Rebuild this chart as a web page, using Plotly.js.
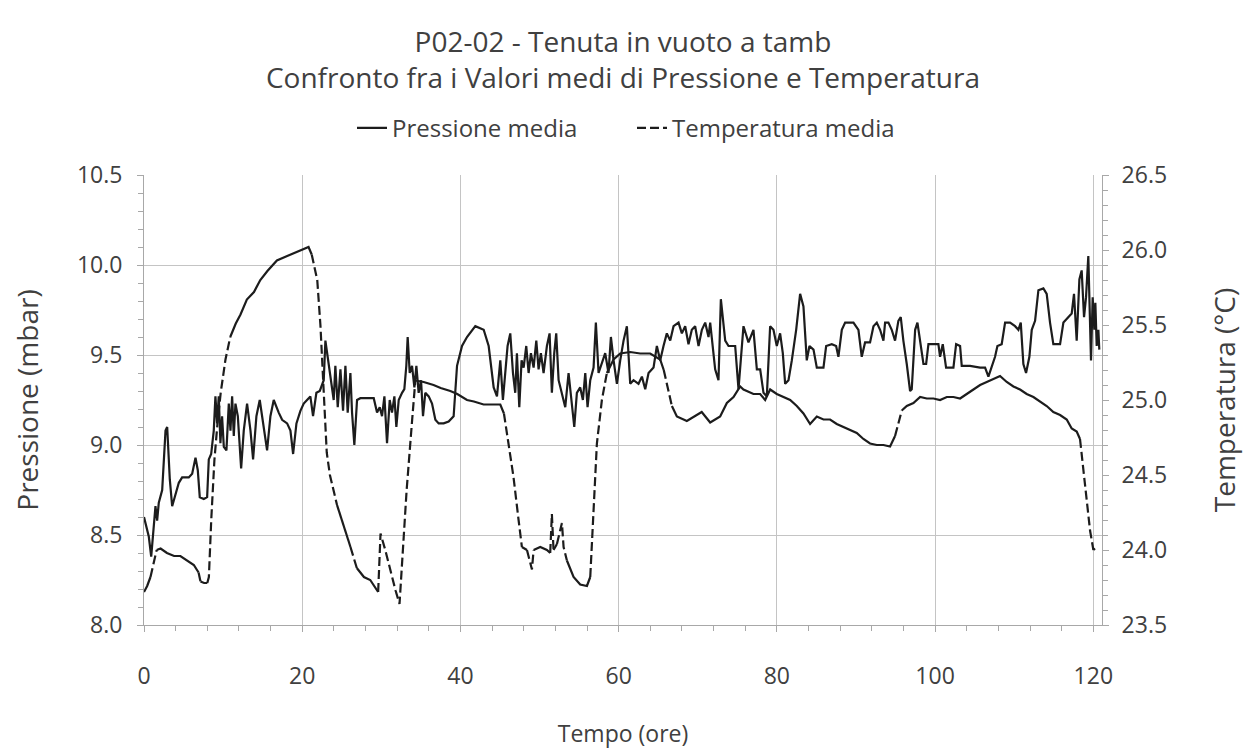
<!DOCTYPE html>
<html>
<head>
<meta charset="utf-8">
<script src="https://cdn.plot.ly/plotly-3.0.1.min.js"></script>
<style>
  html, body { margin: 0; padding: 0; background: #ffffff; }
  #chart { width: 1243px; height: 749px; }
</style>
</head>
<body>
<div id="chart"></div>
<script>
// ---- Data ----
const titleLines = ['P02-02 - Tenuta in vuoto a tamb', 'Confronto fra i Valori medi di Pressione e Temperatura'];
const seriesNames = ['Pressione media', 'Temperatura media'];
const xTitle = 'Tempo (ore)';
const yTitle = 'Pressione (mbar)';
const y2Title = 'Temperatura (°C)';

// Pressione media (mbar) vs tempo (ore)
const timeP = [
  0, 0.61, 0.91, 1.24, 1.45, 1.66, 1.87, 2.30, 2.72, 2.93, 3.26, 3.56, 3.98, 4.40, 4.82, 5.24, 5.66, 6.09, 6.51, 6.80,
  7.05, 7.56, 7.98, 8.19, 8.49, 8.82, 9.03, 9.24, 9.45, 9.66, 9.87, 10.09, 10.42, 10.72, 10.93, 11.14, 11.35, 11.56, 11.86, 12.28,
  12.61, 13.03, 13.46, 13.79, 14.21, 14.63, 15.06, 15.56, 15.98, 16.40, 17.03, 17.46, 18.09, 18.51, 18.85, 19.27, 19.77, 20.19, 20.61, 21.03,
  21.37, 21.79, 22.22, 22.51, 22.72, 22.93, 23.23, 23.56, 23.98, 24.19, 24.49, 24.83, 25.16, 25.46, 25.75, 26.09, 26.30, 26.59, 26.93, 27.35,
  28.19, 29.04, 29.46, 29.80, 30.09, 30.39, 30.72, 31.06, 31.35, 31.65, 31.90, 32.20, 32.62, 32.91, 33.16, 33.33, 33.59, 33.88, 34.18, 34.43,
  34.72, 35.02, 35.27, 35.56, 35.99, 36.41, 36.83, 37.25, 37.88, 38.51, 39.14, 39.57, 40.20, 40.83, 41.88, 42.94, 43.57, 44.20, 44.62, 45.04,
  45.37, 45.67, 45.96, 46.30, 46.64, 46.93, 47.14, 47.44, 47.73, 47.99, 48.32, 48.62, 48.91, 49.25, 49.59, 49.88, 50.17, 50.51, 50.93, 51.27,
  51.56, 51.86, 52.11, 52.41, 52.83, 53.25, 53.67, 54.09, 54.39, 54.72, 55.14, 55.48, 55.78, 56.07, 56.41, 56.83, 57.12, 57.46, 57.88, 58.30,
  58.72, 59.02, 59.36, 59.78, 60.20, 60.62, 61.04, 61.46, 61.88, 62.51, 62.94, 63.36, 63.78, 64.41, 64.83, 65.25, 65.67, 66.09, 66.52, 66.94,
  67.57, 67.99, 68.41, 68.83, 69.25, 69.67, 70.10, 70.52, 70.94, 71.36, 71.57, 72.20, 72.62, 72.92, 73.47, 73.89, 74.73, 75.15, 75.78, 76.41,
  77.04, 77.47, 77.89, 78.31, 78.73, 79.15, 79.57, 79.99, 80.41, 80.75, 81.05, 81.47, 81.89, 82.44, 82.94, 83.36, 83.78, 84.12, 84.63, 85.05,
  85.47, 85.89, 86.23, 86.94, 87.49, 87.78, 88.21, 88.63, 89.68, 90.31, 90.73, 91.15, 91.78, 92.21, 92.63, 93.05, 93.47, 93.68, 94.10, 94.52,
  94.94, 95.36, 95.66, 95.99, 96.42, 96.84, 97.05, 97.48, 97.77, 98.11, 98.53, 98.87, 99.16, 99.79, 100.42, 100.63, 100.97, 101.39, 102.32, 102.66,
  103.16, 103.37, 104.42, 105.69, 106.32, 106.74, 107.16, 107.58, 107.88, 108.42, 108.85, 109.48, 110.11, 110.53, 110.83, 111.16, 111.50, 111.92, 112.22, 112.64,
  113.06, 113.69, 114.11, 114.53, 114.95, 115.80, 116.22, 116.85, 117.27, 117.56, 117.90, 118.24, 118.53, 118.83, 119.08, 119.37, 119.59, 119.71, 119.92, 120.13,
  120.26, 120.43, 120.64, 120.76
];
const pressione = [
  8.60, 8.49, 8.38, 8.56, 8.66, 8.58, 8.68, 8.75, 9.08, 9.10, 8.81, 8.66, 8.73, 8.79, 8.82, 8.82, 8.82, 8.84, 8.93, 8.86,
  8.71, 8.70, 8.71, 8.92, 8.95, 9.08, 9.27, 9.12, 9.27, 9.01, 9.16, 8.99, 8.97, 9.23, 9.08, 9.27, 9.05, 9.23, 9.16, 8.87,
  9.08, 9.23, 9.08, 8.92, 9.16, 9.25, 9.12, 8.97, 9.16, 9.25, 9.18, 9.14, 9.12, 9.08, 8.95, 9.12, 9.19, 9.23, 9.25, 9.27,
  9.16, 9.29, 9.30, 9.34, 9.36, 9.58, 9.49, 9.38, 9.25, 9.44, 9.21, 9.42, 9.19, 9.44, 9.18, 9.40, 9.18, 9.00, 9.25, 9.26,
  9.26, 9.26, 9.18, 9.21, 9.16, 9.27, 9.01, 9.25, 9.18, 9.27, 9.10, 9.25, 9.29, 9.31, 9.44, 9.60, 9.40, 9.44, 9.32, 9.44,
  9.29, 9.36, 9.16, 9.29, 9.27, 9.23, 9.14, 9.12, 9.12, 9.13, 9.16, 9.44, 9.55, 9.60, 9.66, 9.64, 9.55, 9.32, 9.27, 9.47,
  9.25, 9.40, 9.55, 9.62, 9.40, 9.29, 9.51, 9.21, 9.47, 9.43, 9.55, 9.40, 9.51, 9.43, 9.58, 9.42, 9.51, 9.40, 9.55, 9.62,
  9.29, 9.51, 9.62, 9.36, 9.29, 9.21, 9.40, 9.21, 9.10, 9.29, 9.32, 9.25, 9.40, 9.21, 9.36, 9.43, 9.68, 9.40, 9.45, 9.51,
  9.40, 9.60, 9.47, 9.34, 9.47, 9.58, 9.66, 9.34, 9.36, 9.34, 9.38, 9.31, 9.40, 9.43, 9.55, 9.47, 9.55, 9.62, 9.58, 9.66,
  9.68, 9.62, 9.66, 9.56, 9.64, 9.66, 9.55, 9.64, 9.68, 9.60, 9.68, 9.42, 9.36, 9.81, 9.58, 9.55, 9.55, 9.31, 9.66, 9.57,
  9.64, 9.42, 9.42, 9.29, 9.27, 9.66, 9.64, 9.55, 9.62, 9.51, 9.34, 9.36, 9.47, 9.64, 9.84, 9.77, 9.47, 9.55, 9.53, 9.43,
  9.43, 9.43, 9.55, 9.56, 9.55, 9.49, 9.64, 9.68, 9.68, 9.64, 9.49, 9.57, 9.57, 9.66, 9.68, 9.64, 9.58, 9.68, 9.68, 9.64,
  9.58, 9.69, 9.71, 9.58, 9.45, 9.30, 9.31, 9.64, 9.68, 9.58, 9.45, 9.45, 9.56, 9.56, 9.56, 9.49, 9.56, 9.43, 9.43, 9.56,
  9.55, 9.44, 9.44, 9.43, 9.43, 9.38, 9.43, 9.49, 9.55, 9.56, 9.68, 9.68, 9.66, 9.64, 9.68, 9.45, 9.40, 9.49, 9.64, 9.69,
  9.86, 9.87, 9.84, 9.68, 9.56, 9.56, 9.68, 9.71, 9.73, 9.84, 9.58, 9.92, 9.97, 9.71, 9.82, 10.05, 9.64, 9.47, 9.82, 9.64,
  9.79, 9.55, 9.64, 9.53
];

// Temperatura media (°C) vs tempo (ore)
const timeT = [
  0, 0.4, 0.82, 1.24, 1.6, 2.1, 2.9, 3.8, 4.6, 5.45, 6.3, 6.9, 7.14, 7.6, 8.0, 8.2, 8.5, 8.9, 9.3, 9.7,
  10.3, 10.9, 11.6, 12.2, 13.0, 13.9, 14.7, 15.6, 16.8, 18.1, 19.35, 20.4, 20.8, 21.2, 21.5, 21.9, 22.3, 22.7, 23.1, 23.5,
  24.4, 25.25, 26.1, 26.9, 27.8, 28.6, 29.3, 29.6, 29.9, 30.5, 31.1, 31.8, 32.3, 32.6, 33.2, 33.9, 34.3, 35.35, 36.6, 37.5,
  38.72, 39.6, 40.83, 41.7, 42.93, 44.0, 45.04, 45.5, 46.1, 46.7, 47.35, 47.77, 48.41, 49.04, 49.25, 50.09, 50.93, 51.35, 51.56, 51.77,
  52.2, 52.83, 53.04, 53.46, 54.3, 55.14, 55.99, 56.41, 56.83, 57.25, 57.88, 58.51, 59.36, 60.2, 61.46, 62.72, 63.99, 65.25, 65.7, 66.09,
  66.73, 67.36, 68.62, 69.88, 70.5, 71.57, 72.83, 73.68, 74.52, 75.36, 75.78, 77.04, 77.89, 78.52, 79.15, 79.99, 80.84, 81.68, 82.52, 83.36,
  84.2, 85.05, 85.89, 86.73, 87.57, 88.42, 89.26, 90.1, 90.94, 91.78, 92.63, 93.47, 94.31, 94.94, 95.36, 95.79, 96.42, 97.26, 98.11, 98.95,
  99.79, 100.63, 101.48, 102.32, 103.16, 104.0, 104.85, 105.69, 106.53, 107.37, 108.21, 109.06, 109.9, 110.74, 111.58, 112.43, 113.27, 114.11, 114.95, 115.8,
  116.64, 117.27, 117.9, 118.32, 118.74, 119.16, 119.59, 120.01, 120.22
];
const temperatura = [
  23.72, 23.76, 23.82, 23.93, 24.00, 24.01, 23.98, 23.96, 23.96, 23.93, 23.90, 23.85, 23.79, 23.78, 23.78, 23.82, 24.20, 24.60, 24.85, 25.05,
  25.27, 25.42, 25.51, 25.57, 25.67, 25.72, 25.80, 25.86, 25.93, 25.96, 25.99, 26.01, 26.02, 25.97, 25.90, 25.80, 25.50, 25.05, 24.65, 24.50,
  24.30, 24.16, 24.02, 23.88, 23.82, 23.80, 23.74, 23.72, 24.11, 24.00, 23.87, 23.73, 23.64, 23.91, 24.40, 24.87, 25.13, 25.12, 25.10, 25.08,
  25.06, 25.04, 25.00, 24.99, 24.97, 24.97, 24.97, 24.91, 24.71, 24.49, 24.20, 24.02, 24.00, 23.87, 24.00, 24.02, 24.00, 23.98, 24.24, 24.00,
  24.04, 24.18, 24.02, 23.93, 23.82, 23.77, 23.76, 23.82, 24.27, 24.71, 25.00, 25.18, 25.27, 25.31, 25.32, 25.31, 25.31, 25.27, 25.20, 25.10,
  24.96, 24.89, 24.86, 24.90, 24.92, 24.85, 24.89, 24.98, 25.02, 25.09, 25.07, 25.04, 25.04, 25.00, 25.07, 25.04, 25.02, 25.00, 24.96, 24.91,
  24.84, 24.89, 24.87, 24.87, 24.84, 24.82, 24.80, 24.78, 24.74, 24.71, 24.70, 24.70, 24.69, 24.76, 24.84, 24.93, 24.96, 24.98, 25.02, 25.01,
  25.01, 25.00, 25.02, 25.02, 25.01, 25.04, 25.07, 25.10, 25.12, 25.14, 25.16, 25.12, 25.09, 25.07, 25.04, 25.02, 24.99, 24.96, 24.92, 24.90,
  24.87, 24.81, 24.79, 24.74, 24.53, 24.31, 24.13, 24.00, 24.01
];

// ---- Build traces ----
// The source plot restarts the dash pattern on every segment, so steep
// segments look dashed while slowly varying ones look solid. Split the
// temperature path into runs by slope to reproduce that look.
function splitBySlope(x, y, thr) {
  const solid = {x: [], y: []}, dashed = {x: [], y: []};
  let prev = null;
  for (let i = 0; i < x.length - 1; i++) {
    const steep = Math.abs((y[i + 1] - y[i]) / (x[i + 1] - x[i])) > thr;
    const run = steep ? dashed : solid;
    if (steep !== prev) {
      if (run.x.length) { run.x.push(null); run.y.push(null); }
      run.x.push(x[i]); run.y.push(y[i]);
    }
    run.x.push(x[i + 1]); run.y.push(y[i + 1]);
    prev = steep;
  }
  return {solid, dashed};
}
const tParts = splitBySlope(timeT, temperatura, 0.17);

const lineColor = '#1c1c1c';
const traces = [
  {
    x: timeP, y: pressione, type: 'scatter', mode: 'lines', name: seriesNames[0],
    line: {color: lineColor, width: 2.2}, yaxis: 'y'
  },
  {
    x: tParts.dashed.x, y: tParts.dashed.y, type: 'scatter', mode: 'lines', name: seriesNames[1],
    line: {color: lineColor, width: 2.2, dash: '9px,4px'}, yaxis: 'y2', connectgaps: false, legendgroup: 't'
  },
  {
    x: tParts.solid.x, y: tParts.solid.y, type: 'scatter', mode: 'lines', name: seriesNames[1],
    line: {color: lineColor, width: 2.2}, yaxis: 'y2', connectgaps: false, showlegend: false, legendgroup: 't'
  }
];

const txt = '#404040';
const gridC = '#c4c4c4';
const axC = '#a8a8a8';
const fontFam = '"Open Sans", "Noto Sans", sans-serif';

const layout = {
  width: 1243, height: 749,
  paper_bgcolor: '#ffffff', plot_bgcolor: '#ffffff',
  font: {family: fontFam, color: txt, size: 20},
  margin: {l: 144, r: 141, t: 175, b: 124, pad: 0},
  title: {
    text: titleLines.join('<br>'),
    font: {family: fontFam, size: 28, color: txt},
    x: 0.5, xanchor: 'center', xref: 'paper',
    y: 1 - 52 / 749, yanchor: 'middle', yref: 'container'
  },
  showlegend: true,
  legend: {
    orientation: 'h', x: (352 - 144) / 958, xanchor: 'left', y: 1.104, yanchor: 'middle',
    font: {family: fontFam, size: 24, color: txt},
    entrywidth: 235, entrywidthmode: 'pixels',
    bgcolor: 'rgba(0,0,0,0)', traceorder: 'normal'
  },
  xaxis: {
    range: [0, 121.1], tick0: 0, dtick: 20,
    showgrid: true, gridcolor: gridC, gridwidth: 1,
    showline: true, linecolor: axC, linewidth: 1, zeroline: false,
    ticks: 'outside', ticklen: 6, tickcolor: axC,
    minor: {dtick: 4, tick0: 0, ticks: 'outside', ticklen: 5, tickcolor: axC, showgrid: false},
    tickfont: {family: fontFam, size: 23, color: txt},
    ticklabelstandoff: 24,
    title: {text: xTitle, font: {family: fontFam, size: 23, color: txt}, standoff: 37}
  },
  yaxis: {
    range: [8, 10.5], tick0: 8, dtick: 0.5, tickformat: '.1f',
    showgrid: true, gridcolor: gridC, gridwidth: 1,
    showline: true, linecolor: axC, linewidth: 1, zeroline: false,
    ticks: 'outside', ticklen: 6, tickcolor: axC,
    minor: {dtick: 0.1, ticks: 'outside', ticklen: 5, tickcolor: axC, showgrid: false},
    tickfont: {family: fontFam, size: 23, color: txt},
    ticklabelstandoff: 10,
    title: {text: yTitle, font: {family: fontFam, size: 28, color: txt}, standoff: 30}
  },
  yaxis2: {
    range: [23.5, 26.5], tick0: 23.5, dtick: 0.5, tickformat: '.1f',
    overlaying: 'y', side: 'right',
    showgrid: false,
    showline: true, linecolor: axC, linewidth: 1, zeroline: false,
    ticks: 'outside', ticklen: 6, tickcolor: axC,
    minor: {dtick: 0.1, ticks: 'outside', ticklen: 5, tickcolor: axC, showgrid: false},
    tickfont: {family: fontFam, size: 23, color: txt},
    ticklabelstandoff: 8,
    title: {text: y2Title, font: {family: fontFam, size: 28, color: txt}, standoff: 50}
  }
};

Plotly.newPlot('chart', traces, layout, {displayModeBar: false, staticPlot: true});
</script>
</body>
</html>
